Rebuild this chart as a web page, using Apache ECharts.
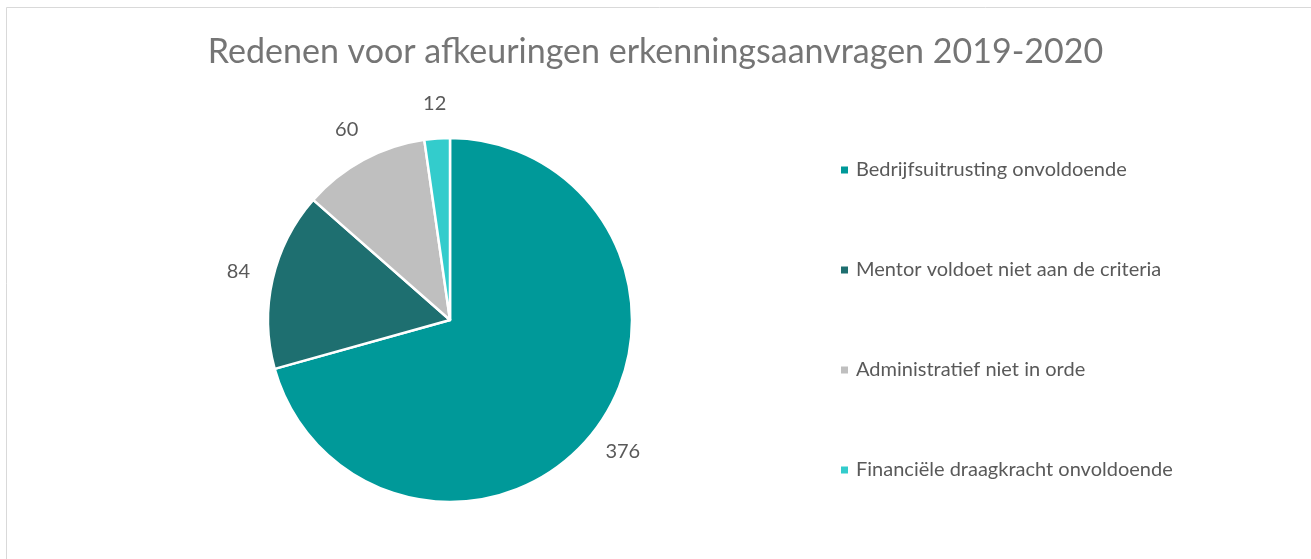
<!DOCTYPE html>
<html><head><meta charset="utf-8">
<script src="https://cdn.jsdelivr.net/npm/echarts@6/dist/echarts.min.js"></script>
<style>html,body{margin:0;padding:0;background:#fff}#c{width:1311px;height:559px}</style>
</head><body><div id="c"></div>
<script>
var categories = ['Bedrijfsuitrusting onvoldoende','Mentor voldoet niet aan de criteria','Administratief niet in orde','Financiële draagkracht onvoldoende'];
var values = [376, 84, 60, 12];
var colors = ['#009999','#1E6F70','#BFBFBF','#33CCCC'];
var chart = echarts.init(document.getElementById('c'));
var font = 'Lato, "Open Sans", sans-serif';
chart.setOption({
  backgroundColor:'#fff',
  animation:false,
  graphic:[{type:'rect',shape:{x:6.5,y:7.5,width:1400,height:700},style:{fill:'none',stroke:'#d9d9d9',lineWidth:1}}],
  title:{text:'Redenen voor afkeuringen erkenningsaanvragen 2019-2020',left:'center',top:30,
    textStyle:{fontFamily:font,fontSize:34,fontWeight:'normal',color:'#757575'}},
  legend:{data:categories,orient:'vertical',left:834,top:155,itemGap:80,itemWidth:9,itemHeight:9,icon:'rect',
    textStyle:{fontFamily:font,fontSize:20,color:'#595959',padding:[0,0,0,2]}},
  series:[{type:'pie',center:[450,320],radius:[0,182],startAngle:90,clockwise:true,
    data:categories.map(function(c,i){return {name:c,value:values[i],itemStyle:{color:colors[i]}};}),
    itemStyle:{borderColor:'#fff',borderWidth:2.5},
    label:{show:false},labelLine:{show:false},
    emphasis:{disabled:true}
  },{type:'pie',center:[450,320],radius:[192,236],startAngle:90,clockwise:true,silent:true,
    data:categories.map(function(c,i){return {name:'lbl'+i,value:values[i]};}),
    itemStyle:{color:'rgba(0,0,0,0)',borderWidth:0},
    label:{show:true,position:'inside',formatter:'{c}',fontFamily:font,fontSize:20,color:'#595959'},
    labelLine:{show:false},
    emphasis:{disabled:true}
  }]
});
</script></body></html>
